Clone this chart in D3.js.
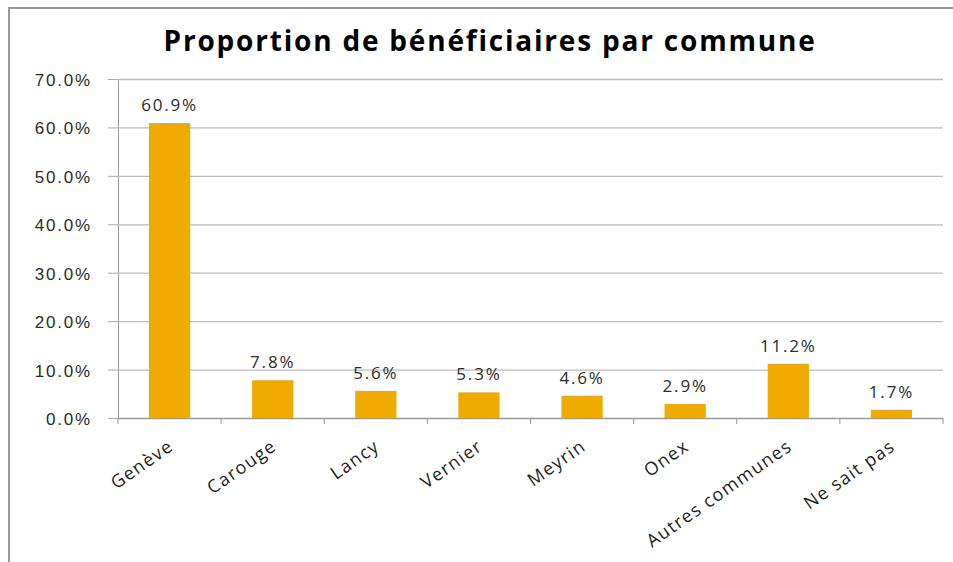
<!DOCTYPE html>
<html lang="fr">
<head>
  <meta charset="UTF-8">
  <title>Proportion de bénéficiaires par commune</title>
  <style>
    body { margin: 0; background: #fff; overflow: hidden; }
    svg { font-family: 'Open Sans', sans-serif; }
    .title { font-size: 28px; font-weight: bold; fill: #000; letter-spacing: 1.8px; }
    .tick text { font-size: 17px; fill: #2b2b2b; letter-spacing: 1.8px; }
    .lbl { font-size: 17px; fill: #2b2b2b; text-anchor: middle; letter-spacing: 1.8px; }
    .cat { font-size: 18px; fill: #1e1e1e; letter-spacing: 1.3px; }
  </style>
</head>
<body>
  <svg width="953" height="562"></svg>

  <script src="https://d3js.org/d3.v7.min.js"></script>
  <script>
    var communes = ["Genève", "Carouge", "Lancy", "Vernier", "Meyrin", "Onex", "Autres communes", "Ne sait pas"];
    var parts = [60.9, 7.8, 5.6, 5.3, 4.6, 2.9, 11.2, 1.7];
    var yTicks = [0, 10, 20, 30, 40, 50, 60, 70];

    var svg = d3.select("svg");
    var mLeft = 118, mRight = 943, mTop = 79, mBottom = 418;

    // cadre du graphique
    svg.append("rect")
      .attr("x", 9).attr("y", 8)
      .attr("width", 1000).attr("height", 600)
      .attr("fill", "none")
      .attr("stroke", "#9a9a9a")
      .attr("stroke-width", 2);

    svg.append("text")
      .attr("class", "title")
      .attr("x", 490).attr("y", 51)
      .attr("text-anchor", "middle")
      .text("Proportion de bénéficiaires par commune");

    var x = d3.scaleBand()
      .domain(communes)
      .range([mLeft, mRight])
      .paddingInner(0.6)
      .paddingOuter(0.3);

    var y = d3.scaleLinear()
      .domain([0, 70])
      .range([mBottom, mTop]);

    // grille + axe y
    var yAxis = svg.append("g")
      .attr("transform", "translate(" + mLeft + ",0)")
      .call(d3.axisLeft(y)
        .tickValues(yTicks)
        .tickSize(10)
        .tickPadding(16)
        .tickFormat(function(d) { return d.toFixed(1) + "%"; }));
    yAxis.select(".domain").attr("stroke", "#999");
    yAxis.selectAll(".tick line").attr("stroke", "#aaa");
    yAxis.selectAll(".tick text").attr("dy", "0.38em");
    yAxis.selectAll(".tick").append("line")
      .attr("x1", 0).attr("x2", mRight - mLeft)
      .attr("stroke", function(d) { return d === 0 ? "#999" : "#bcbcbc"; })
      .attr("stroke-width", 1.3);

    // axe x
    var ticksX = d3.range(communes.length + 1).map(function(i) { return mLeft + i * x.step(); });
    svg.append("g").selectAll("line")
      .data(ticksX)
      .enter()
      .append("line")
      .attr("x1", function(d) { return d; })
      .attr("x2", function(d) { return d; })
      .attr("y1", mBottom)
      .attr("y2", mBottom + 6)
      .attr("stroke", "#999");

    svg.append("g").selectAll("text")
      .data(communes)
      .enter()
      .append("text")
      .attr("class", "cat")
      .attr("transform", function(d) {
        return "translate(" + (x(d) + x.bandwidth() / 2 + 5) + "," + (mBottom + 31) + ") rotate(-35)";
      })
      .attr("text-anchor", "end")
      .text(function(d) { return d; });

    // barres
    svg.append("g").selectAll("rect")
      .data(parts)
      .enter()
      .append("rect")
      .attr("x", function(d, i) { return x(communes[i]); })
      .attr("y", function(d) { return y(d); })
      .attr("width", x.bandwidth())
      .attr("height", function(d) { return mBottom - y(d); })
      .attr("fill", "#f0ab00");

    svg.append("g").selectAll("text")
      .data(parts)
      .enter()
      .append("text")
      .attr("class", "lbl")
      .attr("x", function(d, i) { return x(communes[i]) + x.bandwidth() / 2; })
      .attr("y", function(d) { return y(d) - 12; })
      .text(function(d) { return d.toFixed(1) + "%"; });
  </script>
</body>
</html>
